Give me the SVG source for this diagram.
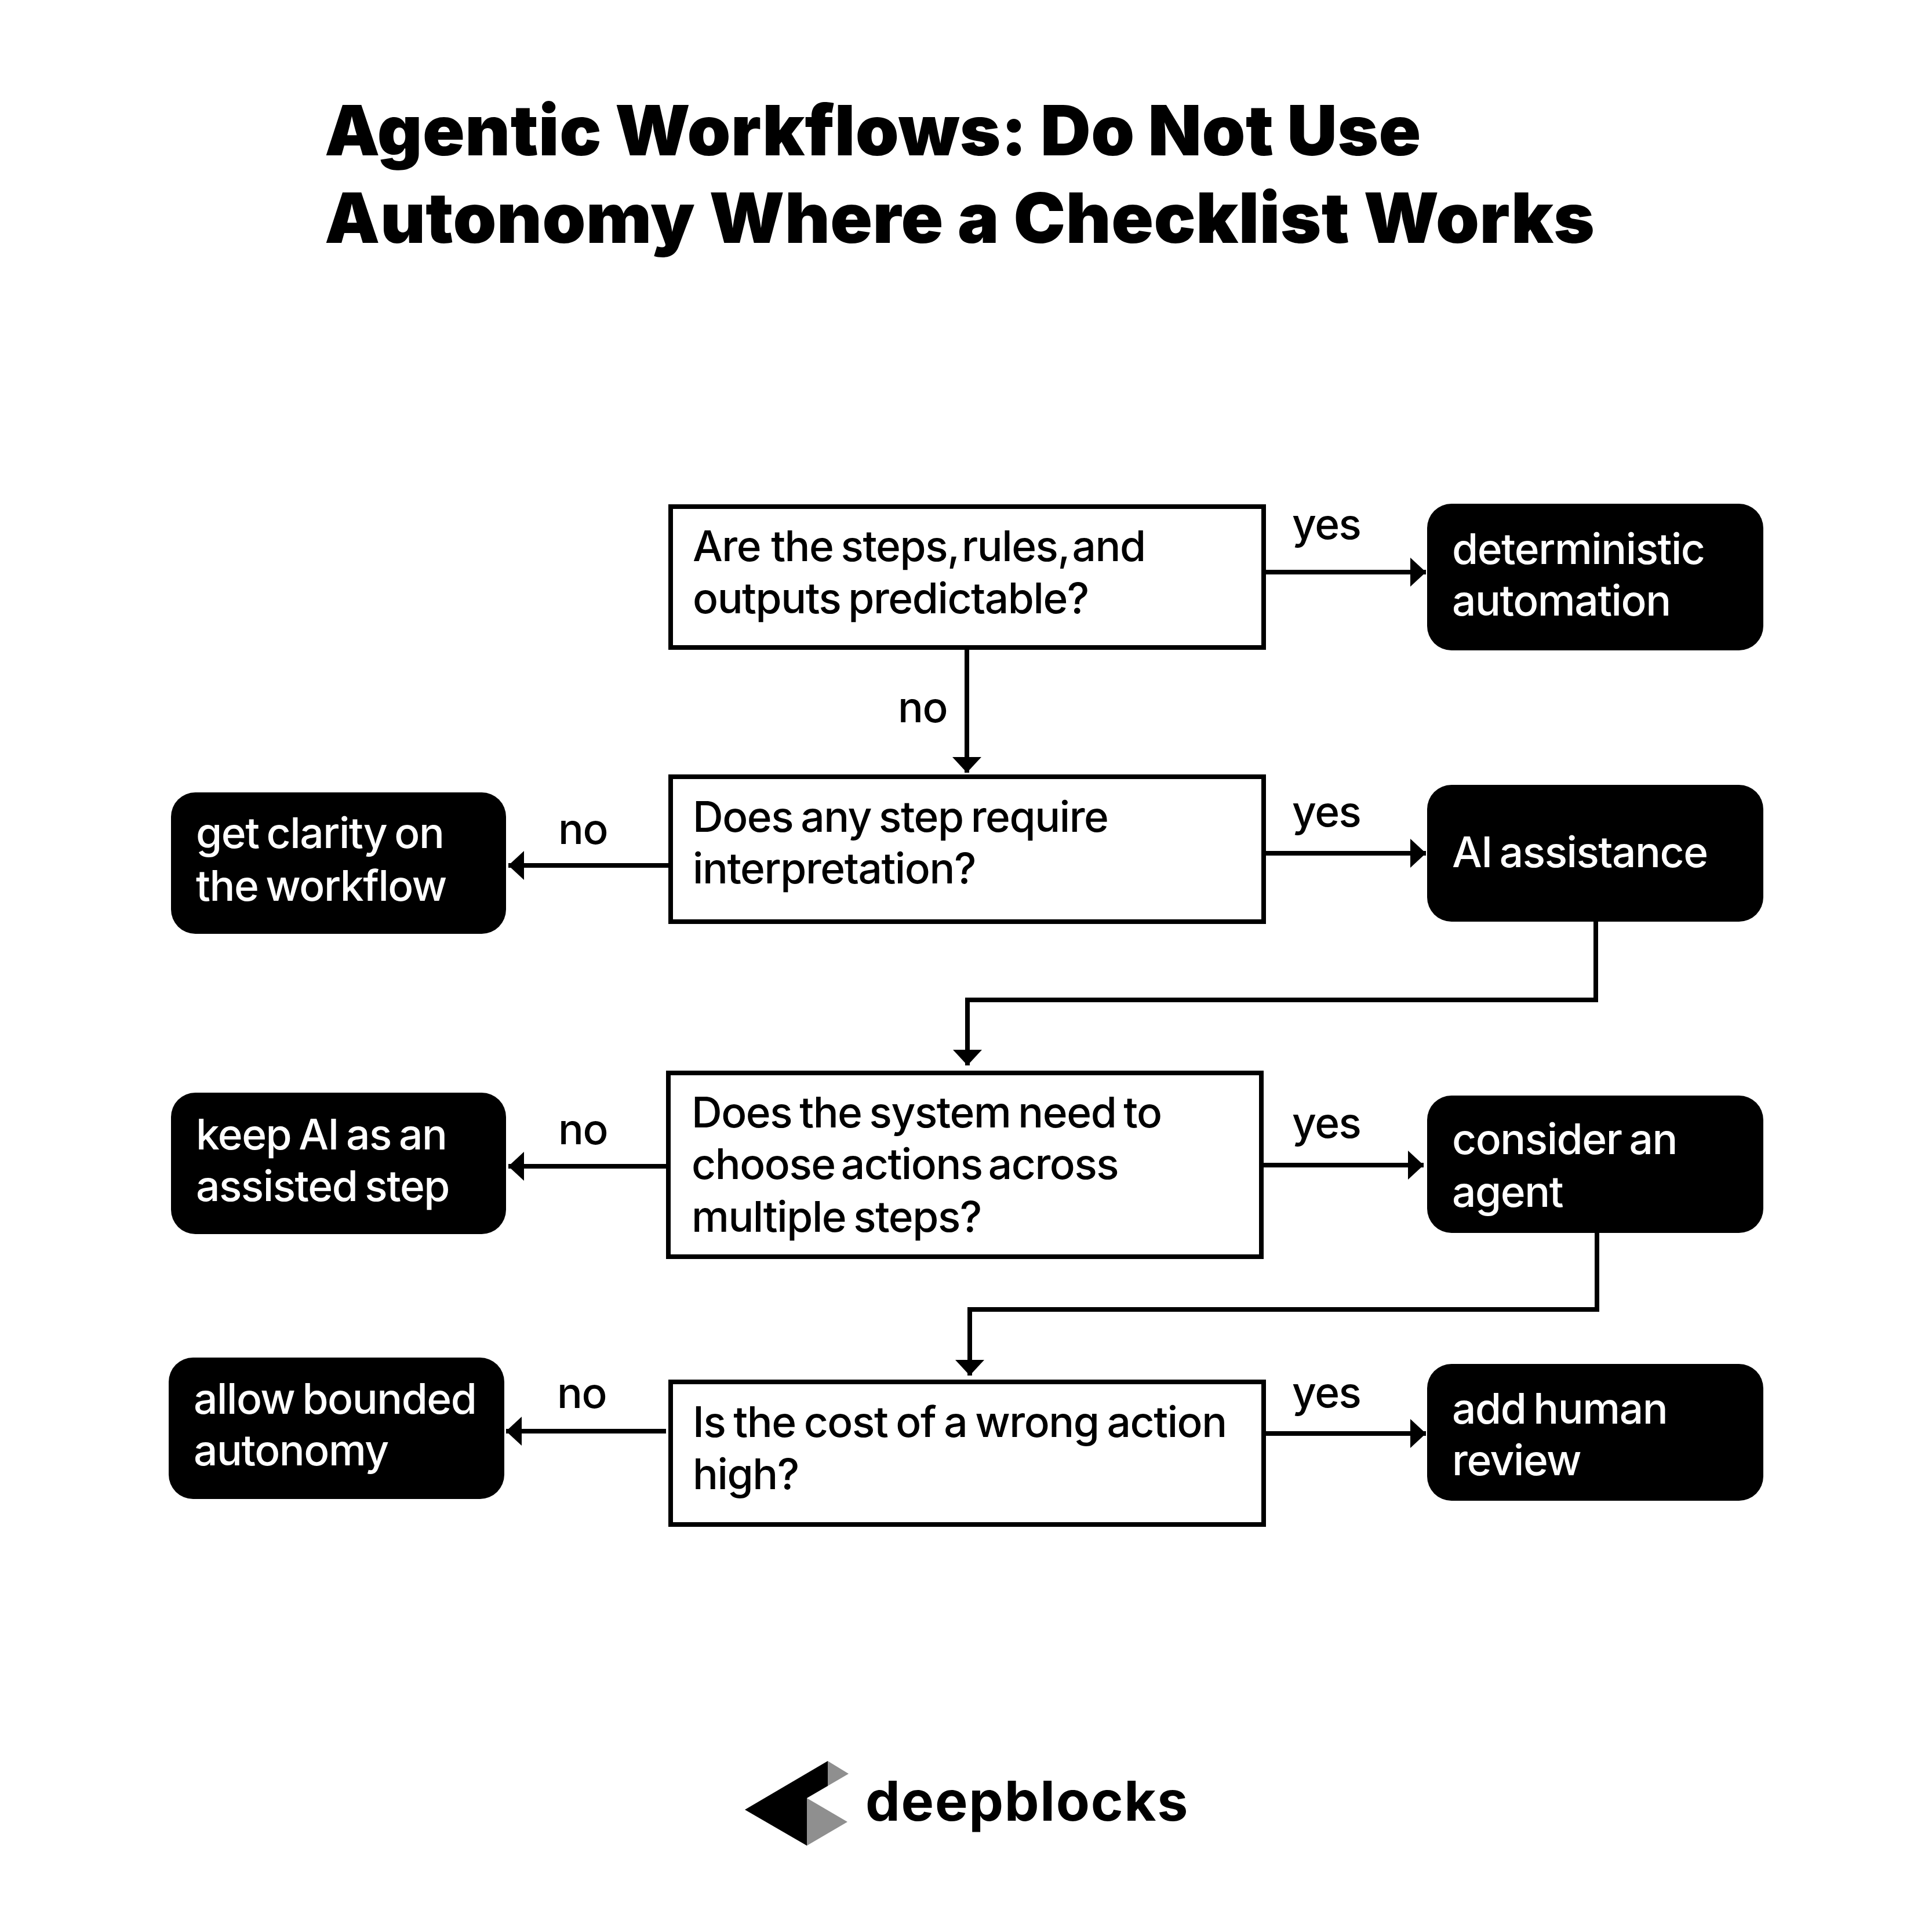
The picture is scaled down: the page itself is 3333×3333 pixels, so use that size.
<svg xmlns="http://www.w3.org/2000/svg" width="3333" height="3333" viewBox="0 0 3333 3333">
<style>
text{font-family:"Inter","Liberation Sans",sans-serif;font-size:73px;font-weight:540;fill:#000;letter-spacing:-1.45px;word-spacing:-5px}
.t{font-size:120px;font-weight:900;letter-spacing:0.5px;word-spacing:0}
.w{fill:#fff}
.q{fill:#fff;stroke:#000;stroke-width:8}
.b{fill:#000}
.c{fill:none;stroke:#000;stroke-width:8}
.logo{font-size:95px;font-weight:700;letter-spacing:1.7px}
</style>
<defs><marker id="a" markerUnits="userSpaceOnUse" markerWidth="27" markerHeight="50" refX="27" refY="25" orient="auto"><path d="M0 0L27 25L0 50Z" fill="#000"/></marker></defs>
<rect width="3333" height="3333" fill="#fff"/>
<g id="title"><text class="t" x="560" y="268" style="word-spacing:-1.5px">Agentic Workflows: Do Not Use</text><text class="t" x="560" y="419">Autonomy Where a Checklist Works</text></g>
<g id="connectors">
<path class="c" marker-end="url(#a)" d="M2184 987H2460"/>
<path class="c" marker-end="url(#a)" d="M1668 1121V1333"/>
<path class="c" marker-end="url(#a)" d="M2184 1472H2460"/>
<path class="c" marker-end="url(#a)" d="M1153 1493H877"/>
<path class="c" marker-end="url(#a)" d="M2753 1590V1725H1669V1838"/>
<path class="c" marker-end="url(#a)" d="M2180 2010H2456"/>
<path class="c" marker-end="url(#a)" d="M1149 2012H877"/>
<path class="c" marker-end="url(#a)" d="M2755 2127V2259H1673V2373"/>
<path class="c" marker-end="url(#a)" d="M2184 2473H2460"/>
<path class="c" marker-end="url(#a)" d="M1149 2469H873"/>
<text x="2229" y="930">yes</text><text x="1549" y="1246">no</text>
<text x="2229" y="1426">yes</text><text x="963" y="1456">no</text>
<text x="2229" y="1963">yes</text><text x="963" y="1974">no</text>
<text x="2229" y="2428">yes</text><text x="961" y="2429">no</text>
</g>
<g id="q1"><rect class="q" x="1157" y="874" width="1023" height="243"/><text x="1195" y="968"><tspan style="word-spacing:0">Are the</tspan> <tspan style="word-spacing:-13px">steps, rules, and</tspan></text><text x="1195" y="1058">outputs predictable?</text></g>
<g id="q2"><rect class="q" x="1157" y="1340" width="1023" height="250"/><text x="1195" y="1435">Does any step require</text><text x="1195" y="1524">interpretation?</text></g>
<g id="q3"><rect class="q" x="1153" y="1851" width="1023" height="317"/><text x="1193" y="1945">Does the system need to</text><text x="1193" y="2034" style="word-spacing:-8px">choose actions across</text><text x="1193" y="2125">multiple steps?</text></g>
<g id="q4"><rect class="q" x="1157" y="2384" width="1023" height="246"/><text x="1195" y="2479" style="word-spacing:-4px">Is the cost of a wrong action</text><text x="1195" y="2569">high?</text></g>
<g id="r1"><rect class="b" x="2462" y="869" width="580" height="253" rx="42"/><text class="w" x="2505" y="973">deterministic</text><text class="w" x="2505" y="1062">automation</text></g>
<g id="r2"><rect class="b" x="2462" y="1354" width="580" height="236" rx="42"/><text class="w" x="2505" y="1496">AI assistance</text></g>
<g id="r3"><rect class="b" x="2462" y="1890" width="580" height="237" rx="42"/><text class="w" x="2505" y="1991">consider an</text><text class="w" x="2505" y="2082">agent</text></g>
<g id="r4"><rect class="b" x="2462" y="2353" width="580" height="236" rx="42"/><text class="w" x="2505" y="2456">add human</text><text class="w" x="2505" y="2545">review</text></g>
<g id="l2"><rect class="b" x="295" y="1367" width="578" height="244" rx="42"/><text class="w" x="338" y="1463">get clarity on</text><text class="w" x="338" y="1554">the workflow</text></g>
<g id="l3"><rect class="b" x="295" y="1885" width="578" height="244" rx="42"/><text class="w" x="338" y="1983">keep AI as an</text><text class="w" x="338" y="2072">assisted step</text></g>
<g id="l4"><rect class="b" x="291" y="2342" width="579" height="244" rx="42"/><text class="w" x="334" y="2439">allow bounded</text><text class="w" x="334" y="2528">autonomy</text></g>
<g id="logo">
<path fill="#8f8f8f" d="M1428 3038L1464 3060L1428 3081ZM1392 3102L1462 3143L1392 3184Z"/>
<path fill="#000" d="M1428 3038V3081L1392 3102V3184L1285 3122Z"/>
<text class="logo" x="1493" y="3141">deepblocks</text>
</g>
</svg>
